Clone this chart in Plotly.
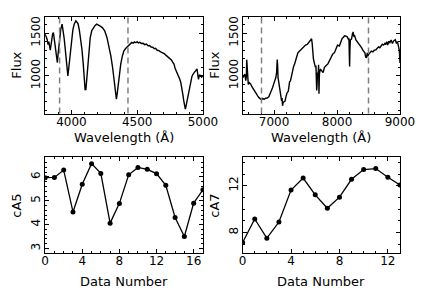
import plotly.graph_objects as go
from plotly.subplots import make_subplots

# ---- data ----
blue_wave = [3800, 3808, 3815, 3822, 3828, 3839, 3845, 3851, 3857, 3863, 3869, 3875, 3884, 3893, 3899,
             3905, 3912, 3919, 3929, 3936, 3944, 3952, 3961, 3967, 3973, 3979, 3985, 3993, 4002, 4011,
             4021, 4028, 4034, 4042, 4050, 4060, 4070, 4080, 4090, 4098, 4104, 4110, 4116, 4123, 4133,
             4143, 4155, 4167, 4180, 4192, 4204, 4216, 4235, 4253, 4270, 4289, 4300, 4313, 4322, 4330,
             4338, 4342, 4348, 4355, 4365, 4375, 4387, 4399, 4412, 4426, 4440, 4450, 4459, 4470, 4480,
             4490, 4500, 4510, 4520, 4532, 4545, 4557, 4570, 4582, 4595, 4606, 4618, 4630, 4640, 4652,
             4665, 4678, 4691, 4705, 4720, 4735, 4751, 4760, 4770, 4780, 4788, 4797, 4806, 4815, 4824,
             4832, 4838, 4844, 4849, 4854, 4858, 4862, 4866, 4870, 4874, 4879, 4885, 4890, 4896, 4902,
             4909, 4916, 4922, 4928, 4934, 4940, 4945, 4950, 4955, 4958, 4962, 4966, 4970, 4975, 4980,
             4985, 4990, 4995, 5000]
blue_flux = [1488, 1450, 1430, 1367, 1400, 1300, 1390, 1449, 1490, 1507, 1440, 1371, 1250, 1156, 1260,
             1371, 1480, 1547, 1605, 1540, 1449, 1330, 1156, 1060, 1000, 1080, 1176, 1330, 1449, 1540,
             1605, 1625, 1645, 1630, 1613, 1540, 1449, 1310, 1137, 950, 840, 840, 960, 1137, 1320,
             1449, 1530, 1566, 1590, 1605, 1590, 1585, 1565, 1527, 1450, 1332, 1230, 1098, 980, 863,
             750, 727, 790, 883, 1020, 1137, 1230, 1293, 1320, 1340, 1370, 1380, 1392, 1384, 1398,
             1388, 1400, 1386, 1392, 1380, 1382, 1366, 1372, 1352, 1356, 1338, 1335, 1318, 1322, 1300,
             1296, 1282, 1275, 1262, 1240, 1222, 1200, 1186, 1160, 1138, 1090, 1060, 1030, 995, 960,
             920, 875, 820, 765, 710, 660, 625, 610, 635, 670, 705, 745, 800, 860, 915,
             960, 990, 1012, 1030, 1045, 1052, 1060, 1068, 1080, 1050, 980, 960, 990, 1015, 995,
             1000, 985, 995, 1000]

red_wave = [6505, 6520, 6535, 6550, 6560, 6565, 6571, 6578, 6590, 6605, 6626, 6650, 6678, 6700, 6720,
            6739, 6760, 6780, 6800, 6820, 6840, 6865, 6890, 6916, 6940, 6957, 6975, 6992, 7010, 7028,
            7040, 7050, 7056, 7063, 7080, 7094, 7105, 7119, 7127, 7134, 7145, 7160, 7174, 7190, 7205,
            7226, 7246, 7260, 7276, 7296, 7310, 7326, 7348, 7365, 7378, 7398, 7420, 7440, 7454, 7474,
            7500, 7530, 7560, 7580, 7596, 7605, 7611, 7625, 7640, 7657, 7665, 7672, 7677, 7683, 7690,
            7700, 7707, 7713, 7720, 7733, 7750, 7779, 7800, 7820, 7840, 7855, 7885, 7910, 7931, 7961,
            7985, 8007, 8037, 8060, 8083, 8100, 8120, 8139, 8160, 8180, 8190, 8195, 8200, 8205, 8212,
            8230, 8245, 8256, 8266, 8280, 8300, 8320, 8342, 8360, 8380, 8392, 8410, 8425, 8443, 8455,
            8469, 8480, 8490, 8500, 8520, 8545, 8570, 8590, 8621, 8640, 8660, 8680, 8697, 8720, 8740,
            8760, 8773, 8790, 8805, 8824, 8840, 8860, 8880, 8900, 8925, 8945, 8960, 8976, 8990, 9000]
red_flux = [980, 1010, 1020, 945, 1000, 1190, 1100, 920, 900, 920, 905, 870, 832, 810, 785,
            766, 745, 730, 720, 735, 725, 738, 740, 754, 790, 824, 860, 900, 940, 980,
            1040, 1190, 1120, 980, 880, 824, 760, 707, 740, 650, 690, 700, 704, 760, 800,
            821, 930, 940, 1000, 1070, 1110, 1140, 1195, 1240, 1270, 1285, 1300, 1320, 1330, 1345,
            1360, 1370, 1400, 1420, 1435, 1380, 1260, 1200, 1150, 1100, 1120, 1000, 830, 900, 1040,
            1000, 1130, 790, 1020, 1080, 1060, 1040, 1100, 1110, 1130, 1140, 1190, 1230, 1254, 1275,
            1330, 1360, 1350, 1400, 1440, 1450, 1470, 1465, 1460, 1430, 1440, 1250, 1110, 1300, 1420,
            1430, 1490, 1515, 1460, 1470, 1420, 1400, 1386, 1370, 1345, 1328, 1300, 1290, 1269, 1220,
            1211, 1270, 1230, 1250, 1275, 1290, 1280, 1300, 1308, 1320, 1340, 1330, 1347, 1370, 1360,
            1380, 1367, 1400, 1360, 1406, 1390, 1420, 1380, 1410, 1425, 1380, 1400, 1347, 1300, 1150]

blue_marks = [3910, 4430]
red_marks = [6800, 8500]

ca5_x = list(range(18))
ca5 = [5.97, 5.98, 6.29, 4.53, 5.69, 6.56, 6.15, 4.06, 4.89, 6.09, 6.40, 6.32, 6.14, 5.65, 4.30,
       3.50, 4.90, 5.46]
ca7_x = list(range(14))
ca7 = [7.14, 9.15, 7.51, 8.89, 11.63, 12.66, 11.22, 10.07, 11.02, 12.55, 13.38, 13.47, 12.72, 12.06]

W, H = 436, 291
FONT = "DejaVu Sans"

fig = make_subplots(rows=2, cols=2)

line = dict(color="black", width=1.4)
fig.add_trace(go.Scatter(x=blue_wave, y=blue_flux, mode="lines", line=line), row=1, col=1)
fig.add_trace(go.Scatter(x=red_wave, y=red_flux, mode="lines", line=line), row=1, col=2)
fig.add_trace(go.Scatter(x=ca5_x, y=ca5, mode="lines+markers", line=dict(color="black", width=1.3),
                         marker=dict(color="black", size=5)), row=2, col=1)
fig.add_trace(go.Scatter(x=ca7_x, y=ca7, mode="lines+markers", line=dict(color="black", width=1.3),
                         marker=dict(color="black", size=5)), row=2, col=2)

for v in blue_marks:
    fig.add_vline(x=v, line=dict(color="#808080", width=1.5, dash="6px,4px"), row=1, col=1)
for v in red_marks:
    fig.add_vline(x=v, line=dict(color="#808080", width=1.5, dash="6px,4px"), row=1, col=2)

def px_dom(a, b, total):
    return [a / total, b / total]

xdoms = {1: px_dom(43, 208, W), 2: px_dom(249.5, 414, W)}
ydoms = {1: [1 - 113 / H, 1 - 16 / H], 2: [1 - 252.5 / H, 1 - 157 / H]}

axis_common = dict(showline=True, linecolor="black", linewidth=1, mirror="allticks",
                   ticks="inside", ticklen=4, tickcolor="black", tickwidth=1,
                   showgrid=False, zeroline=False,
                   tickfont=dict(family=FONT, size=12, color="black"))

xspec = {
    (1, 1): dict(range=[3800, 5000], tick0=4000, dtick=500, minor_dtick=100),
    (1, 2): dict(range=[6500, 9000], tick0=7000, dtick=1000, minor_dtick=200),
    (2, 1): dict(range=[0, 17], tick0=0, dtick=4, minor_dtick=1),
    (2, 2): dict(range=[0, 13], tick0=0, dtick=4, minor_dtick=1),
}
yspec = {
    (1, 1): dict(range=[558, 1690], tick0=1000, dtick=500, minor_dtick=100),
    (1, 2): dict(range=[558, 1690], tick0=1000, dtick=500, minor_dtick=100),
    (2, 1): dict(range=[2.82, 6.82], tick0=3, dtick=1, minor_dtick=0.2),
    (2, 2): dict(range=[6.27, 14.42], tick0=8, dtick=4, minor_dtick=1),
}

for (r, c), s in xspec.items():
    fig.update_xaxes(row=r, col=c, range=s["range"], tick0=s["tick0"], dtick=s["dtick"],
                     domain=xdoms[c], ticklabelstandoff=-3,
                     minor=dict(ticks="inside", ticklen=2, dtick=s["minor_dtick"], tickcolor="black"),
                     **axis_common)
for (r, c), s in yspec.items():
    fig.update_yaxes(row=r, col=c, range=s["range"], tick0=s["tick0"], dtick=s["dtick"],
                     domain=ydoms[r], tickangle=-90, ticklabelstandoff=-1,
                     minor=dict(ticks="inside", ticklen=2, dtick=s["minor_dtick"], tickcolor="black"),
                     **axis_common)

titles = [
    ("Wavelength (Å)", 125.5, 137, 0),
    ("Wavelength (Å)", 331.5, 137, 0),
    ("Data Number", 125.5, 281, 0),
    ("Data Number", 331.5, 281, 0),
    ("Flux", 13, 64.5, -90),
    ("Flux", 220, 64.5, -90),
    ("cA5", 13, 205, -90),
    ("cA7", 220, 205, -90),
]
for text, x, y, ang in titles:
    fig.add_annotation(text=text, x=x / W, y=1 - y / H, xref="paper", yref="paper",
                       showarrow=False, textangle=ang, xanchor="center", yanchor="middle",
                       font=dict(family=FONT, size=13, color="black"))

fig.update_layout(width=W, height=H, margin=dict(l=0, r=0, t=0, b=0),
                  paper_bgcolor="white", plot_bgcolor="white", showlegend=False)

fig.write_html("out.html", config={"displayModeBar": False},
               post_script="document.body.style.margin='0';document.body.style.overflow='hidden';")
